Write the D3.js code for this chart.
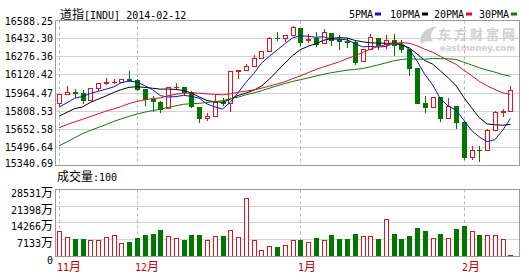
<!DOCTYPE html>
<html><head><meta charset="utf-8">
<script src="https://cdn.jsdelivr.net/npm/d3@7"></script>
<style>html,body{margin:0;padding:0;background:#fff;}svg{display:block;}</style>
</head><body>
<svg id="c" width="529" height="280"></svg>
<script>
// ---- data (DJIA daily, 2013-11-15 .. 2014-02-11) ----
const openV  = [15876,15962,15976,15967,15901,16010,16065,16072,16073,16097, 16086,16009,15914,15889,15825,16020,16025,15973,15843,15739, 15759,15884,15875,16168,16179,16221,16295,16358,16480,16478, 16505,16572,16456,16474,16429,16527,16471,16445,16437,16260, 16374,16481,16418,16459,16414,16373,16197,15879,15838,15928, 15739,15849,15699,15372,15443,15443,15630,15794,15802];
const highV  = [15962,16030,16001,16000,16019,16065,16106,16101,16101,16174, 16100,16009,15937,15890,16020,16061,16025,15987,15843,15785, 15949,15925,16168,16185,16240,16318,16361,16483,16529,16504, 16588.25,16573,16518,16532,16562,16528,16505,16480,16453,16374, 16511,16481,16507,16514,16463,16373,16197,15942,15935,15928, 15919,15849,15708,15481,15478,15632,15798,15821,16029];
const lowV   = [15855,15955,15933,15873,15901,16000,16056,16057,16069,16080, 15999,15854,15805,15796,15825,16015,15955,15835,15703,15720, 15759,15853,15800,16108,16179,16221,16295,16358,16461,16451, 16505,16410,16439,16400,16429,16416,16380,16395,16240,16260, 16374,16375,16385,16320,16351,16133,15879,15796,15838,15708, 15739,15645,15356,15357,15340.69,15443,15630,15759,15802];
const closeV = [15962,15976,15967,15901,16010,16065,16073,16073,16097,16086, 16009,15915,15890,15822,16020,16026,15973,15844,15739,15755, 15885,15875,16168,16179,16221,16295,16358,16480,16478,16504, 16577,16441,16470,16425,16531,16463,16445,16437,16258,16374, 16482,16417,16459,16414,16373,16197,15879,15838,15929,15739, 15849,15699,15373,15445,15440,15629,15794,15802,15995];
const volumeV = [10880,8340,7490,7490,6940,6940,8340,9060,5930,6350, 8040,9190,9610,11300,8760,7920,7070,9190,9190,6940, 8760,8760,11170,8340,24720,6940,2710,4660,4100,4950, 7070,7070,6100,8040,6940,9190,7490,7490,9610,8760, 8760,7490,15960,9610,7490,8760,12280,10880,7920,9610, 7920,11730,13120,10880,9190,9190,9190,7490,300];
const ma5  = [15839,15877,15921,15936,15963,15984,16003,16024,16064,16079, 16068,16036,15999,15944,15931,15935,15946,15937,15920,15867, 15839,15820,15884,15972,16066,16148,16244,16307,16366,16423, 16479,16496,16494,16483,16489,16466,16467,16460,16427,16395, 16399,16394,16398,16429,16429,16372,16264,16140,16043,15916, 15847,15811,15718,15621,15561,15517,15536,15622,15732];
const ma10 = [15755,15789,15824,15839,15881,15911,15940,15973,16000,16021, 16026,16020,16012,16004,16005,16001,15991,15968,15932,15899, 15887,15883,15911,15946,15967,15993,16032,16096,16169,16244, 16314,16370,16400,16425,16456,16473,16481,16477,16455,16442, 16433,16430,16429,16428,16412,16386,16329,16269,16236,16173, 16109,16038,15929,15832,15739,15682,15674,15670,15677];
const ma20 = [15647,15676,15701,15725,15750,15775,15800,15820,15844,15871, 15891,15904,15918,15922,15943,15956,15966,15970,15966,15960, 15956,15951,15961,15975,15986,15997,16012,16032,16051,16072, 16100,16127,16156,16186,16211,16233,16257,16286,16312,16343, 16373,16400,16415,16426,16434,16429,16405,16373,16346,16307, 16271,16234,16179,16130,16076,16034,16001,15970,15956];
const ma30 = [15481,15516,15555,15592,15621,15649,15675,15705,15729,15753, 15773,15791,15805,15818,15835,15850,15864,15869,15873,15880, 15889,15897,15916,15930,15951,15969,15988,16012,16034,16055, 16075,16091,16108,16125,16142,16156,16168,16180,16186,16195, 16211,16228,16247,16266,16278,16284,16281,16281,16287,16286, 16285,16279,16253,16228,16202,16180,16161,16139,16123];
const priceTicks = ["16588.25","16432.30","16276.36","16120.42","15964.47","15808.53","15652.58","15496.64","15340.69"];
const volTickNums = ["28531","21398","14266","7133","0"];
const volTickVals = [28531,21398,14266,7133,0];
const monthIndex = [0,10,31,52];
const monthNames = ["11","12","1","2"];
const legendNames = ["5PMA","10PMA","20PMA","30PMA"];
const legendColors = ["#1010d0","#000000","#d8102c","#0a7a0a"];

// ---- layout ----
const MONO = "'DejaVu Sans Mono', monospace";
const CJK = "'Noto Sans CJK SC', sans-serif";
const UP = "#e8101c", DOWN = "#007800";
const P = {l:55.5, r:519.5, t:20.5, b:165.5};
const V = {t:189.5, b:256.5};
const svg = d3.select("#c");

const x = d3.scaleLinear().domain([0, 58]).range([59.2, 510.4]);
const col = i => Math.round(x(i));
const pMin = 15340.69, pMax = 16588.25;
const yLab = d3.scaleLinear().domain([pMin, pMax]).range([P.b, P.t]);
const y = d3.scaleLinear().domain([pMin, pMax]).range([160.8, 26]);
const yV = d3.scaleLinear().domain([0, 28531]).range([V.b, V.t]);
const R = v => Math.round(v - 0.5) + 0.5;

// watermark
const wm = svg.append("g").attr("fill", "#d0d0d0");
wm.append("path").attr("d", "M421,44 C418,36 424,28 437,26 C431,31 429,36 433,42 C429,40 425,41 421,44 Z");
wm.append("text").attr("x", 438).attr("y", 38.5).attr("font-family", CJK).attr("font-size", 13).attr("font-weight", "bold").attr("textLength", 77).text("东方财富网");
wm.append("text").attr("x", 440).attr("y", 50.5).attr("font-family", "'DejaVu Sans', sans-serif").attr("font-size", 8.5).attr("font-weight", "bold").attr("textLength", 75).text("eastmoney.com");

// price gridlines
const pTickVals = priceTicks.map(Number);
svg.append("g").selectAll("line").data(pTickVals.slice(1, -1)).join("line")
  .attr("x1", P.l).attr("x2", P.r)
  .attr("y1", d => R(yLab(d))).attr("y2", d => R(yLab(d)))
  .attr("stroke", "#d4d4d4");
// volume gridlines
svg.append("g").selectAll("line").data(volTickVals.slice(1, -1)).join("line")
  .attr("x1", P.l).attr("x2", P.r)
  .attr("y1", d => R(yV(d))).attr("y2", d => R(yV(d)))
  .attr("stroke", "#d4d4d4");
// month dashed verticals
const dash = svg.append("g").attr("stroke", "#b4b4b4").attr("stroke-dasharray", "3,3");
monthIndex.forEach(i => {
  dash.append("line").attr("x1", col(i) + 0.5).attr("x2", col(i) + 0.5).attr("y1", P.t).attr("y2", P.b);
  dash.append("line").attr("x1", col(i) + 0.5).attr("x2", col(i) + 0.5).attr("y1", V.t).attr("y2", V.b);
});

// candles
const cg = svg.append("g");
closeV.forEach((c, i) => {
  const o = openV[i], up = c >= o, color = up ? UP : DOWN, cx = col(i);
  cg.append("line").attr("x1", cx + 0.5).attr("x2", cx + 0.5)
    .attr("y1", Math.round(y(highV[i]))).attr("y2", Math.round(y(lowV[i])) + 1)
    .attr("stroke", color);
  const t = Math.round(y(Math.max(o, c))), b = Math.round(y(Math.min(o, c)));
  if (b - t < 1) {
    cg.append("line").attr("x1", cx - 2).attr("x2", cx + 3).attr("y1", t + 0.5).attr("y2", t + 0.5).attr("stroke", color);
  } else if (up) {
    cg.append("rect").attr("x", cx - 1.5).attr("y", t + 0.5).attr("width", 4).attr("height", b - t)
      .attr("fill", "#fff").attr("stroke", color);
  } else {
    cg.append("rect").attr("x", cx - 2).attr("y", t).attr("width", 5).attr("height", b - t + 1).attr("fill", color);
  }
});

// volume bars
const vg = svg.append("g");
volumeV.forEach((v, i) => {
  const up = closeV[i] >= openV[i], cx = col(i);
  const t = Math.min(Math.round(yV(v)), 255);
  if (up) {
    vg.append("rect").attr("x", cx - 1.5).attr("y", t + 0.5).attr("width", 4).attr("height", V.b - 0.5 - t)
      .attr("fill", "#fff").attr("stroke", UP);
  } else {
    vg.append("rect").attr("x", cx - 2).attr("y", t).attr("width", 5).attr("height", 257 - t).attr("fill", DOWN);
  }
});

// moving averages
const lineGen = d3.line().x((d, i) => x(i)).y(d => y(d));
[ma5, ma10, ma20, ma30].forEach((s, k) => {
  svg.append("path").attr("d", lineGen(s)).attr("fill", "none").attr("stroke", legendColors[k]).attr("stroke-width", 1);
});

// panel borders
svg.append("rect").attr("x", P.l).attr("y", P.t).attr("width", P.r - P.l).attr("height", P.b - P.t).attr("fill", "none").attr("stroke", "#9a9a9a");
svg.append("rect").attr("x", P.l).attr("y", V.t).attr("width", P.r - P.l).attr("height", V.b - V.t).attr("fill", "none").attr("stroke", "#9a9a9a");

// price axis labels
svg.append("g").selectAll("text").data(priceTicks).join("text")
  .attr("x", 53).attr("text-anchor", "end")
  .attr("y", d => Math.min(Math.max(yLab(+d), 21.7), 163.3) + 3.6)
  .attr("font-family", MONO).attr("font-size", 10).attr("fill", "#000")
  .text(d => d);

// volume axis labels
volTickNums.forEach((n, k) => {
  const t = svg.append("text").attr("x", 53).attr("text-anchor", "end").attr("y", R(yV(volTickVals[k])) + 7.5).attr("fill", "#000");
  t.append("tspan").attr("font-family", MONO).attr("font-size", 10).text(n);
  if (n !== "0") t.append("tspan").attr("font-family", CJK).attr("font-size", 12).text("万");
});

// month labels
monthIndex.forEach((i, k) => {
  const t = svg.append("text").attr("x", col(i) - 2).attr("y", 270.5).attr("fill", "#c40000");
  t.append("tspan").attr("font-family", MONO).attr("font-size", 10).text(monthNames[k]);
  t.append("tspan").attr("font-family", CJK).attr("font-size", 12).text("月");
});

// title
const title = svg.append("text").attr("x", 60).attr("y", 18.5).attr("fill", "#000");
title.append("tspan").attr("font-family", CJK).attr("font-size", 12).text("道指");
title.append("tspan").attr("font-family", MONO).attr("font-size", 10).text("[INDU] 2014-02-12");

// volume caption
const vc = svg.append("text").attr("x", 57).attr("y", 181).attr("fill", "#000");
vc.append("tspan").attr("font-family", CJK).attr("font-size", 12).text("成交量");
vc.append("tspan").attr("font-family", MONO).attr("font-size", 10).text(":100");

// legend
const legX = [349, 390, 434, 479];
legendNames.forEach((n, k) => {
  svg.append("text").attr("x", legX[k]).attr("y", 17.5).attr("font-family", MONO).attr("font-size", 10).attr("fill", "#000").text(n);
  svg.append("rect").attr("x", legX[k] + n.length * 6 + 2).attr("y", 12.5).attr("width", 6).attr("height", 3).attr("fill", legendColors[k]);
});
</script>
</body></html>
